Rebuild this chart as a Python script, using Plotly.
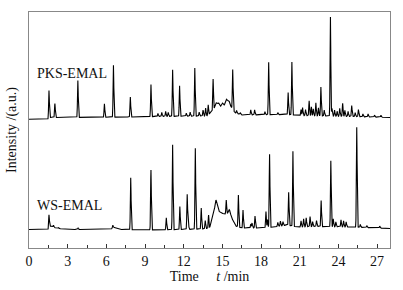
import numpy as np
import plotly.graph_objects as go

# ---- data (time in min, intensity in a.u.) ----
pks_base_t = [0, 1.5, 1.6, 3, 8, 10, 13.8, 14.3, 15, 15.6, 16, 16.5, 20, 21, 25, 28]
pks_base_y = [128.7, 128.7, 130.5, 130.5, 131, 131.5, 132, 138, 141, 142, 135, 133, 133.5, 132.5, 131.5, 130.5]
pks_peak_t = [1.55, 2.01, 3.79, 5.85, 6.55, 7.86, 9.46, 10.0, 10.3, 10.6, 10.8, 11.14, 11.68, 12.2, 12.5,
              12.86, 13.2, 13.5, 13.7, 13.9, 14.28, 14.5, 14.7, 15.0, 15.3, 15.5, 15.8, 16.1, 16.4, 17.2,
              17.5, 18.3, 18.59, 19.3, 20.1, 20.39, 21.1, 21.22, 21.45, 21.73, 21.9, 22.05, 22.25, 22.45,
              22.64, 22.9, 23.38, 23.5, 23.7, 23.9, 24.1, 24.33, 24.5, 24.75, 25.03, 25.3, 25.55, 25.9,
              26.3, 26.8, 27.3]
pks_peak_h = [28, 14, 37, 13.5, 52, 20, 32, 3, 4, 5, 4, 46.5, 30.5, 3, 4,
              48, 4, 6, 8, 10, 31, 6, 5, 4, 7, 5, 40, 3, 2, 5,
              5, 3, 52.5, 2, 22, 53, 6, 8, 6, 15, 9, 7, 13, 8,
              29, 6, 99, 8, 6, 5, 8, 13, 6, 5, 11, 4, 7, 3,
              3, 2, 2]

ws_base_t = [0, 1.5, 1.6, 2.2, 3, 6.3, 6.6, 7, 10, 12, 13.5, 14.0, 14.3, 14.5, 14.8, 15.1, 15.5, 15.8,
             16.0, 16.5, 18, 19, 20, 20.8, 22, 25, 28]
ws_base_y = [18.5, 18.5, 22, 19.5, 18.5, 18.5, 20.5, 18.5, 18, 18.5, 19, 20, 33, 39, 36, 34, 34, 28,
             22, 20, 20, 21, 23, 21, 21.5, 21, 19.5]
ws_peak_t = [1.55, 1.9, 2.3, 3.8, 6.5, 7.89, 9.46, 10.65, 11.14, 11.7, 12.27, 12.35, 12.9, 13.36, 13.67,
             13.93, 14.5, 15.3, 15.55, 16.24, 16.6, 17.2, 17.3, 17.53, 18.38, 18.5, 18.66, 19.3, 19.5,
             19.7, 20.14, 20.47, 21.1, 21.3, 21.5, 21.8, 22.0, 22.3, 22.66, 23.41, 23.6, 23.8, 24.2,
             24.4, 24.6, 25.42, 25.7, 26.2, 27.2]
ws_peak_h = [13, 2, 1, 1.5, 3, 52, 60, 12, 85, 23, 35, 15, 81, 21, 8,
             13, 9, 14, 5, 32, 18, 4, 5, 12, 16, 8, 73, 4, 5,
             4, 33, 75, 6, 8, 9, 10, 5, 6, 26, 66, 8, 5, 7,
             6, 5, 100, 3, 2, 2]

x_ticks = [0, 3, 6, 9, 12, 15, 18, 21, 24, 27]
labels = ["PKS-EMAL", "WS-EMAL"]


def trace_of(bt, by, pt, ph):
    t = np.linspace(0, 28, 5601)
    y = np.interp(t, bt, by)
    for c, h in zip(pt, ph):
        s = 0.08 if (h < 10 and 14.2 < c < 15.6) else 0.028
        y = y + h * np.exp(-0.5 * ((t - c) / s) ** 2)
    return t, y


fig = go.Figure()
for (bt, by, pt, ph) in [(pks_base_t, pks_base_y, pks_peak_t, pks_peak_h),
                         (ws_base_t, ws_base_y, ws_peak_t, ws_peak_h)]:
    t, y = trace_of(bt, by, pt, ph)
    fig.add_trace(go.Scatter(x=t, y=y, mode="lines",
                             line=dict(color="black", width=1.1), showlegend=False,
                             hoverinfo="skip"))

fig.add_annotation(x=0.45, y=175, text=labels[0], showarrow=False, xanchor="left",
                   yanchor="middle", font=dict(family="Liberation Serif", size=14, color="#111"))
fig.add_annotation(x=0.45, y=43, text=labels[1], showarrow=False, xanchor="left",
                   yanchor="middle", font=dict(family="Liberation Serif", size=14, color="#111"))

fig.update_layout(
    template="none",
    width=403, height=290,
    margin=dict(l=29, r=13, t=12, b=42),
    plot_bgcolor="white", paper_bgcolor="white",
    font=dict(family="Liberation Serif", size=14, color="#111"),
    xaxis=dict(range=[0, 28], tickvals=x_ticks, ticks="inside", ticklen=4, tickwidth=1,
               tickcolor="#333", showgrid=False, zeroline=False, showline=True,
               linecolor="#888", linewidth=1, mirror=True, automargin=False,
               minor=dict(dtick=1.5, tick0=0, ticks="inside", ticklen=3, tickcolor="#333",
                          showgrid=False),
               title=dict(text="Time&nbsp;&nbsp;&nbsp;&nbsp;&nbsp;<i>t</i> /min", standoff=0,
                          font=dict(size=14))),
    yaxis=dict(range=[0, 236], showticklabels=False, ticks="", showgrid=False,
               zeroline=False, showline=True, linecolor="#888", linewidth=1, mirror=True,
               automargin=False,
               title=dict(text="Intensity /(a.u.)", standoff=8, font=dict(size=14))),
)

fig.write_html("out.html", config={"displayModeBar": False, "staticPlot": True},
               post_script="document.body.style.margin='0px';")
